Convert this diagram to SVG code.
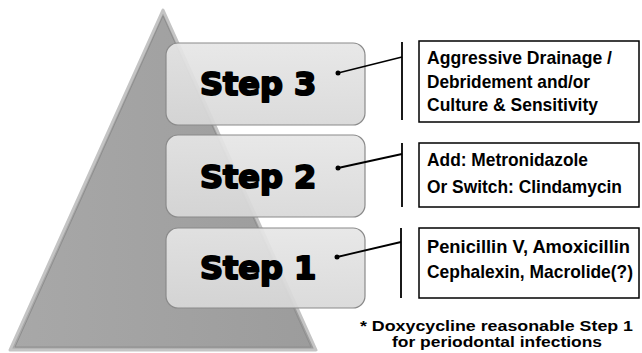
<svg xmlns="http://www.w3.org/2000/svg" width="642" height="353" viewBox="0 0 642 353">
<defs>
<linearGradient id="tri" x1="0" y1="0" x2="1" y2="0">
<stop offset="0" stop-color="#a8a8a8"/>
<stop offset="1" stop-color="#9c9c9c"/>
</linearGradient>
<linearGradient id="box" x1="0" y1="0" x2="0" y2="1">
<stop offset="0" stop-color="#e6e6e6" stop-opacity="0.92"/>
<stop offset="1" stop-color="#d8d8d8" stop-opacity="0.92"/>
</linearGradient>
<style>
.step{fill:url(#box);stroke:#8a8a8a;stroke-width:1.2}
.st{font-family:"DejaVu Sans",sans-serif;font-weight:bold;font-size:32px;fill:#000;stroke:#000;stroke-width:2;stroke-linejoin:round}
.lbl{fill:#fff;stroke:#000;stroke-width:1.5}
.tx{font-family:"Liberation Sans",Arial,sans-serif;font-weight:bold;font-size:18.5px;fill:#000}
.ft{font-family:"Liberation Sans",Arial,sans-serif;font-weight:bold;font-size:15px;fill:#000}
.con{stroke:#000;stroke-width:1.8;fill:none}
</style>
</defs>
<rect width="642" height="353" fill="#fff"/>
<g id="pyramid">
<polygon points="163,10 316,350 10,350" fill="url(#tri)" stroke="#c4c4c4" stroke-width="3" stroke-linejoin="round"/>
<polygon points="163,16 311,347 15,347" fill="none" stroke="#8e8e8e" stroke-width="1"/>
</g>
<g id="step3">
<rect class="step" x="166" y="43" width="199" height="82" rx="12"/>
<text class="st" x="200" y="95">Step 3</text>
</g>
<g id="step2">
<rect class="step" x="166" y="135" width="199" height="82" rx="12"/>
<text class="st" x="200" y="188">Step 2</text>
</g>
<g id="step1">
<rect class="step" x="166" y="228" width="199" height="80" rx="12"/>
<text class="st" x="200" y="279">Step 1</text>
</g>
<g id="connectors">
<circle cx="338" cy="73" r="2.5"/>
<line class="con" x1="338" y1="73" x2="402" y2="57"/>
<line class="con" x1="402" y1="42" x2="402" y2="120"/>
<circle cx="338" cy="168" r="2.5"/>
<line class="con" x1="338" y1="168" x2="402" y2="154"/>
<line class="con" x1="402" y1="143" x2="402" y2="207"/>
<circle cx="337" cy="257" r="2.5"/>
<line class="con" x1="337" y1="257" x2="401" y2="242"/>
<line class="con" x1="401" y1="228" x2="401" y2="298"/>
</g>
<g id="box3">
<rect class="lbl" x="419" y="41" width="220" height="81"/>
<text class="tx" transform="translate(427,64) scale(0.85,1)" textLength="217.6" lengthAdjust="spacingAndGlyphs">Aggressive Drainage /</text>
<text class="tx" transform="translate(427,88) scale(0.85,1)" textLength="191.8" lengthAdjust="spacingAndGlyphs">Debridement and/or</text>
<text class="tx" transform="translate(427,111) scale(0.85,1)" textLength="201.2" lengthAdjust="spacingAndGlyphs">Culture &amp; Sensitivity</text>
</g>
<g id="box2">
<rect class="lbl" x="419" y="143" width="220" height="64"/>
<text class="tx" transform="translate(427,166) scale(0.85,1)" textLength="189.4" lengthAdjust="spacingAndGlyphs">Add: Metronidazole</text>
<text class="tx" transform="translate(427,193) scale(0.85,1)" textLength="229.4" lengthAdjust="spacingAndGlyphs">Or Switch: Clindamycin</text>
</g>
<g id="box1">
<rect class="lbl" x="419" y="228" width="220" height="70"/>
<text class="tx" transform="translate(427,253) scale(0.85,1)" textLength="238.8" lengthAdjust="spacingAndGlyphs">Penicillin V, Amoxicillin</text>
<text class="tx" transform="translate(427,278) scale(0.85,1)" textLength="242.4" lengthAdjust="spacingAndGlyphs">Cephalexin, Macrolide(?)</text>
</g>
<g id="note">
<text class="ft" x="360" y="331" textLength="273" lengthAdjust="spacingAndGlyphs">* Doxycycline reasonable Step 1</text>
<text class="ft" x="392" y="347" textLength="210" lengthAdjust="spacingAndGlyphs">for periodontal infections</text>
</g>
</svg>
